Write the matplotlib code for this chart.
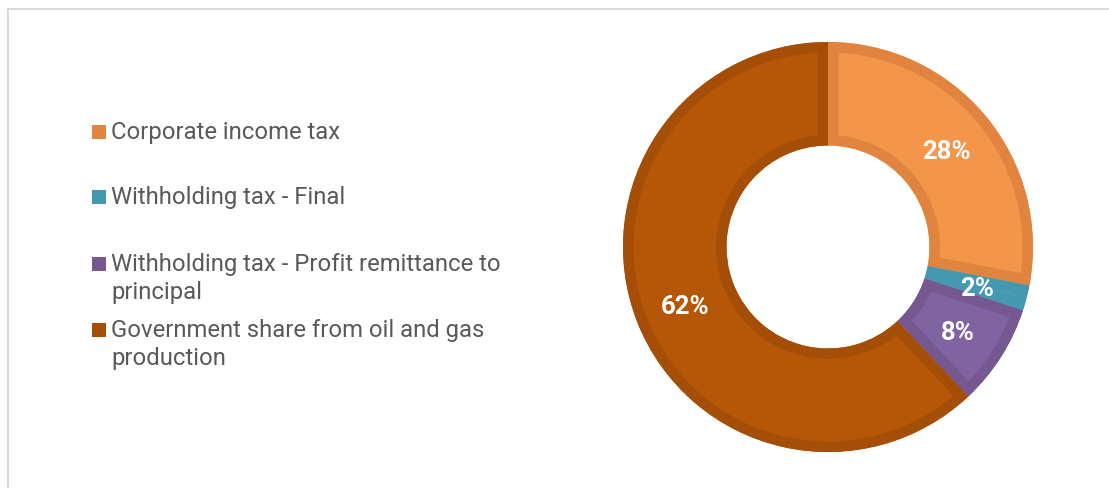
import textwrap

import matplotlib
matplotlib.use("Agg")
import matplotlib.pyplot as plt
from matplotlib.lines import Line2D
from matplotlib.patches import Rectangle, Wedge

plt.rcParams["font.family"] = ["Roboto", "DejaVu Sans"]

categories = [
    "Corporate income tax",
    "Withholding tax - Final",
    "Withholding tax - Profit remittance to principal",
    "Government share from oil and gas production",
]
shares = [28, 2, 8, 62]
fill_colors = ["#F4964A", "#4A9FB5", "#8064A2", "#B65708"]
edge_colors = ["#E0843F", "#4499B0", "#74588F", "#A44E07"]

W, H, DPI = 1109, 489, 100
fig = plt.figure(figsize=(W / DPI, H / DPI), dpi=DPI)


def fx(x):
    return x / W


def fy(y):
    return 1 - y / H


# outer border of the chart area (top and left edges)
border = "#D9D9D9"
fig.add_artist(Line2D([fx(8), fx(W)], [fy(10), fy(10)], color=border, lw=1.5))
fig.add_artist(Line2D([fx(8), fx(8)], [fy(10), fy(H)], color=border, lw=1.5))

# donut
cx, cy, r = 828, 248, 205
ax = fig.add_axes([fx(cx - r), fy(cy + r), 2 * r / W, 2 * r / H])
wedges, _, pct_texts = ax.pie(
    shares,
    colors=fill_colors,
    startangle=90,
    counterclock=False,
    radius=1,
    autopct=lambda p: f"{p:.0f}%",
    pctdistance=0.75,
    wedgeprops=dict(width=0.505, linewidth=0),
    textprops=dict(color="white", fontsize=18.5, fontweight="bold"),
)
ax.set_xlim(-1, 1)
ax.set_ylim(-1, 1)
ax.set_aspect("equal")
ax.axis("off")

# darker inner stroke on each segment
stroke_pt = 10.5 / DPI * 72 * 2
for w, ec in zip(wedges, edge_colors):
    ring = Wedge(w.center, w.r, w.theta1, w.theta2, width=w.width,
                 facecolor="none", edgecolor=ec, linewidth=stroke_pt,
                 joinstyle="miter", zorder=w.get_zorder() + 0.1)
    ax.add_patch(ring)
    ring.set_clip_path(w)
for t in pct_texts:
    t.set_zorder(5)
    t.set_verticalalignment("center_baseline")

# legend, laid out on fixed rows
text_color = "#595959"
first_baselines = [139, 204, 271, 337]
line_gap = 28
for label, base, ec in zip(categories, first_baselines, edge_colors):
    lines = textwrap.fill(label, width=38).split("\n")
    fig.add_artist(Rectangle((fx(92), fy(base + 1)), 14 / W, 14 / H,
                             transform=fig.transFigure, facecolor=ec,
                             edgecolor="none"))
    for k, line in enumerate(lines):
        fig.text(fx(111), fy(base + k * line_gap), line, fontsize=17.2,
                 color=text_color, va="baseline", ha="left")

fig.savefig("out.png", dpi=DPI, facecolor="white")
